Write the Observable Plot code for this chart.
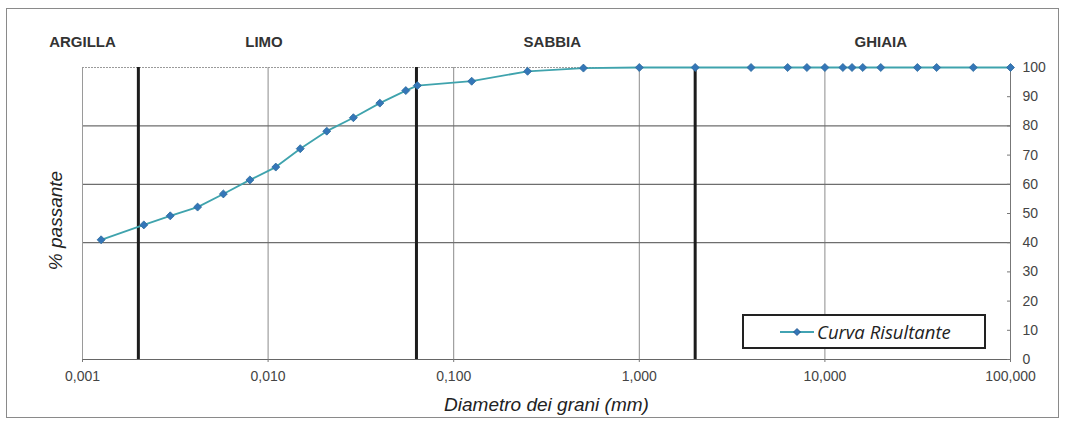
<!DOCTYPE html>
<html>
<head>
<meta charset="utf-8">
<script src="https://cdn.jsdelivr.net/npm/d3@7"></script>
<script src="https://cdn.jsdelivr.net/npm/@observablehq/plot@0.6"></script>
<style>
  html, body { margin: 0; padding: 0; background: #fff; }
  #wrap { position: relative; width: 1067px; height: 421px; overflow: hidden; }
  #frame { position: absolute; left: 6px; top: 8px; width: 1053px; height: 410px; border: 1px solid #8a8a8a; box-sizing: border-box; pointer-events: none; }
  #legend { position: absolute; left: 742px; top: 314px; width: 244px; height: 35px; border: 2px solid #222; box-sizing: border-box; background: #fff;
            display: flex; align-items: center; font-family: "Open Sans", Lato, sans-serif; font-style: italic; font-size: 18.5px; color: #222; }
  #legend svg { margin-left: 35px; margin-right: 2px; }
</style>
</head>
<body>
<div id="wrap">
  <div id="chart"></div>
  <div id="frame"></div>
  <div id="legend"><svg width="36" height="12"><line x1="1" y1="6" x2="35" y2="6" stroke="#42a3b3" stroke-width="2"/><path d="M18,2.5 L21.5,6 L18,9.5 L14.5,6 Z" fill="#3476b8" stroke="#1d4f86" stroke-width="0.8"/></svg><span>Curva Risultante</span></div>
</div>
<script>
// ---- data ----
const diameters = [0.00126, 0.00214, 0.00297, 0.00417, 0.00574, 0.00798, 0.0110, 0.0149, 0.0207, 0.0288, 0.0400, 0.0552, 0.0637, 0.125, 0.25, 0.5, 1, 2, 4, 6.3, 8, 10, 12.5, 14, 16, 20, 31.5, 40, 63, 100];
const passing   = [41.0, 46.1, 49.2, 52.2, 56.7, 61.5, 65.9, 72.2, 78.2, 82.8, 87.8, 92.1, 93.8, 95.3, 98.7, 99.8, 100, 100, 100, 100, 100, 100, 100, 100, 100, 100, 100, 100, 100, 100];
const xTicks = [0.001, 0.01, 0.1, 1, 10, 100];
const yTicks = [0, 10, 20, 30, 40, 50, 60, 70, 80, 90, 100];
const gridX = [0.01, 0.1, 1, 10];
const gridY = [40, 60, 80];
const boundaries = [0.002, 0.063, 2];
const zones = ["ARGILLA", "LIMO", "SABBIA", "GHIAIA"];
const zoneAnchors = [0.001, 0.0095, 0.34, 20];
const xTitle = "Diametro dei grani (mm)";
const yTitle = "% passante";

const pts = diameters.map((d, i) => ({d, p: passing[i]}));
const zoneData = zones.map((z, i) => ({z, x: zoneAnchors[i]}));
const itFmt = d3.formatLocale({decimal: ",", thousands: ".", grouping: [3]}).format(".3f");

const chart = Plot.plot({
  width: 1067,
  height: 421,
  marginLeft: 82,
  marginRight: 57,
  marginTop: 67,
  marginBottom: 62,
  style: {fontFamily: "'Liberation Sans', Arial, sans-serif", fontSize: "14px", background: "transparent"},
  x: {type: "log", domain: [0.001, 100]},
  y: {domain: [0, 100]},
  marks: [
    Plot.ruleX(gridX, {stroke: "#8c8c8c", strokeWidth: 1}),
    Plot.ruleY(gridY, {stroke: "#6e6e6e", strokeWidth: 1.2}),
    Plot.ruleY([100], {stroke: "#9a9a9a", strokeWidth: 1, strokeDasharray: "2,1"}),
    Plot.ruleX([0.001], {stroke: "#9a9a9a", strokeWidth: 1}),
    Plot.ruleX([100], {stroke: "#777", strokeWidth: 1}),
    Plot.ruleY([0], {stroke: "#666", strokeWidth: 1.2}),
    Plot.ruleX(boundaries, {stroke: "#1c1c1c", strokeWidth: 3}),
    Plot.axisX({ticks: xTicks, tickFormat: itFmt, tickSize: 3, tickPadding: 9, stroke: "#777", fill: "#444", fontSize: 14, label: null}),
    Plot.axisY({anchor: "right", ticks: yTicks, tickFormat: d => String(d), tickSize: 4, dx: -4, tickPadding: 12, stroke: "#777", fill: "#444", fontSize: 14, label: null}),
    Plot.line(pts, {x: "d", y: "p", stroke: "#3fa3ad", strokeWidth: 1.8}),
    Plot.dot(pts, {x: "d", y: "p", symbol: "diamond2", r: 3.6, fill: "#3476b8", stroke: "#2a6a9c", strokeWidth: 0.8}),
    Plot.text(zoneData, {x: "x", text: "z", frameAnchor: "top", dy: -25, textAnchor: "middle", lineAnchor: "middle", fontWeight: "bold", fontSize: 15, fill: "#333"}),
    Plot.text([xTitle], {frameAnchor: "bottom", dy: 45, textAnchor: "middle", lineAnchor: "middle", fontStyle: "italic", fontSize: 19, fill: "#222"}),
    Plot.text([yTitle], {frameAnchor: "left", dx: -27, dy: 7, rotate: -90, textAnchor: "middle", lineAnchor: "middle", fontStyle: "italic", fontSize: 19, fill: "#222"})
  ]
});
document.getElementById("chart").appendChild(chart);
</script>
</body>
</html>
